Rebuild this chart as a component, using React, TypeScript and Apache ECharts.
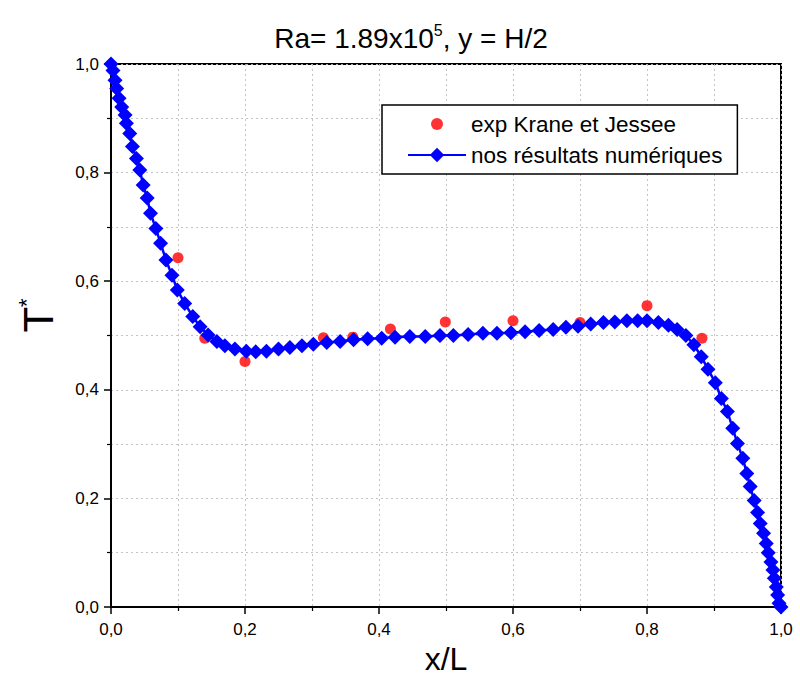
import React, { useEffect, useRef } from "react";
import * as echarts from "echarts";

const blueX = [0.000,0.003,0.006,0.0085,0.012,0.016,0.021,0.023,0.028,0.032,0.038,0.043,0.048,0.054,0.059,0.067,0.074,0.082,0.091,0.099,0.110,0.122,0.133,0.145,0.158,0.170,0.185,0.202,0.216,0.232,0.250,0.267,0.285,0.302,0.322,0.342,0.362,0.383,0.404,0.424,0.446,0.469,0.491,0.511,0.533,0.555,0.576,0.597,0.618,0.639,0.660,0.679,0.697,0.716,0.735,0.752,0.770,0.786,0.800,0.817,0.832,0.845,0.858,0.870,0.881,0.891,0.902,0.911,0.920,0.928,0.935,0.943,0.949,0.954,0.960,0.965,0.969,0.974,0.978,0.981,0.985,0.988,0.990,0.993,0.995,0.997,1.000];
const blueY = [1.000,0.988,0.970,0.955,0.937,0.921,0.906,0.891,0.872,0.848,0.826,0.805,0.777,0.753,0.725,0.697,0.670,0.639,0.611,0.584,0.559,0.535,0.516,0.501,0.489,0.481,0.475,0.471,0.470,0.471,0.475,0.478,0.481,0.484,0.487,0.489,0.492,0.494,0.495,0.497,0.498,0.498,0.500,0.500,0.502,0.504,0.504,0.505,0.507,0.509,0.511,0.515,0.517,0.521,0.524,0.525,0.527,0.527,0.527,0.524,0.519,0.511,0.500,0.483,0.461,0.438,0.413,0.384,0.360,0.329,0.301,0.274,0.246,0.222,0.196,0.174,0.154,0.136,0.117,0.100,0.083,0.068,0.053,0.037,0.022,0.007,0.000];

const redX = [0.100,0.140,0.200,0.317,0.361,0.417,0.499,0.600,0.700,0.800,0.882];
const redY = [0.643,0.495,0.452,0.496,0.497,0.512,0.525,0.527,0.524,0.555,0.495];

const redName = "exp Krane et Jessee";
const blueName = "nos résultats numériques";

const FONT = "Liberation Sans, Arial, sans-serif";

export default function App() {
  const ref = useRef<HTMLDivElement>(null);
  useEffect(() => {
    const el = ref.current;
    if (!el) return;
    const chart = echarts.init(el, null, { renderer: "svg" });
    const fmt = (v: number) => v.toFixed(1).replace(".", ",");
    const gridColor = "rgba(190,190,190,0.9)";
    const axisCommon = {
      min: 0,
      max: 1,
      interval: 0.2,
      axisLine: { show: true, onZero: false, lineStyle: { color: "#000", width: 2 } },
      axisTick: { show: true, inside: false, length: 7, lineStyle: { color: "#000", width: 1.5 } },
      minorTick: { show: true, splitNumber: 2, length: 4, lineStyle: { color: "#000", width: 1.2 } },
      splitLine: { show: true, lineStyle: { color: gridColor, type: [2, 3], width: 1 } },
      minorSplitLine: { show: true, lineStyle: { color: gridColor, type: [2, 3], width: 1 } },
      axisLabel: { formatter: fmt, color: "#000", fontSize: 17, fontFamily: FONT },
    };
    chart.setOption({
      animation: false,
      backgroundColor: "#fff",
      title: {
        text: "{a|Ra= 1.89x10}{s|5}{a|, y = H/2}",
        left: 406,
        top: 17,
        textAlign: "center",
        textStyle: {
          fontWeight: "normal",
          rich: {
            a: { fontSize: 28, fontFamily: FONT, color: "#000", fontWeight: "normal", lineHeight: 32 },
            s: { fontSize: 16, fontFamily: FONT, color: "#000", fontWeight: "normal", verticalAlign: "top", lineHeight: 32, padding: [0, 0, 14, 0] },
          },
        },
      },
      legend: {
        orient: "vertical",
        left: 382,
        top: 105,
        backgroundColor: "#fff",
        borderColor: "#000",
        borderWidth: 1.5,
        padding: [6, 15, 6, 25],
        itemGap: 5,
        itemWidth: 58,
        itemHeight: 18,
        textStyle: { fontSize: 22.5, fontFamily: FONT, color: "#000", lineHeight: 26 },
        data: [
          { name: redName, icon: "path://M0,0M58,18M35,9A6,6,0,1,1,23,9A6,6,0,1,1,35,9Z", itemStyle: { color: "#ff0000" } },
          { name: blueName },
        ],
      },
      grid: {
        left: 111,
        top: 64,
        width: 670,
        height: 543,
        outerBoundsMode: "none",
        containLabel: false,
        show: true,
        borderColor: "#000",
        borderWidth: 2,
        backgroundColor: "transparent",
      },
      xAxis: {
        type: "value",
        ...axisCommon,
        name: "x/L",
        nameLocation: "middle",
        nameGap: 28,
        nameTextStyle: { fontSize: 32, fontFamily: FONT, color: "#000", lineHeight: 28 },
        axisLabel: { ...axisCommon.axisLabel, margin: 14 },
      },
      yAxis: {
        type: "value",
        ...axisCommon,
        name: "{a|T}{s|*}",
        nameLocation: "middle",
        nameGap: 50,
        nameTextStyle: {
          rich: {
            a: { fontSize: 42, fontFamily: FONT, color: "#000", lineHeight: 46, padding: [0, 0, 0, 40] },
            s: { fontSize: 22, fontFamily: FONT, color: "#000", verticalAlign: "top", lineHeight: 46, padding: [0, 0, 16, 0] },
          },
        },
        axisLabel: { ...axisCommon.axisLabel, margin: 12 },
      },
      series: [
        {
          name: redName,
          type: "scatter",
          symbol: "circle",
          symbolSize: 11,
          itemStyle: { color: "#ff0000" },
          data: redX.map((x, i) => [x, redY[i]]),
          z: 2,
        },
        {
          name: blueName,
          type: "line",
          symbol: "diamond",
          symbolSize: 15,
          showAllSymbol: true,
          lineStyle: { color: "#0000ff", width: 2.5 },
          itemStyle: { color: "#0000ff" },
          data: blueX.map((x, i) => [x, blueY[i]]),
          z: 3,
        },
      ],
    });
    return () => chart.dispose();
  }, []);
  return <div ref={ref} style={{ position: "absolute", left: 0, top: 0, width: 800, height: 673 }} />;
}
